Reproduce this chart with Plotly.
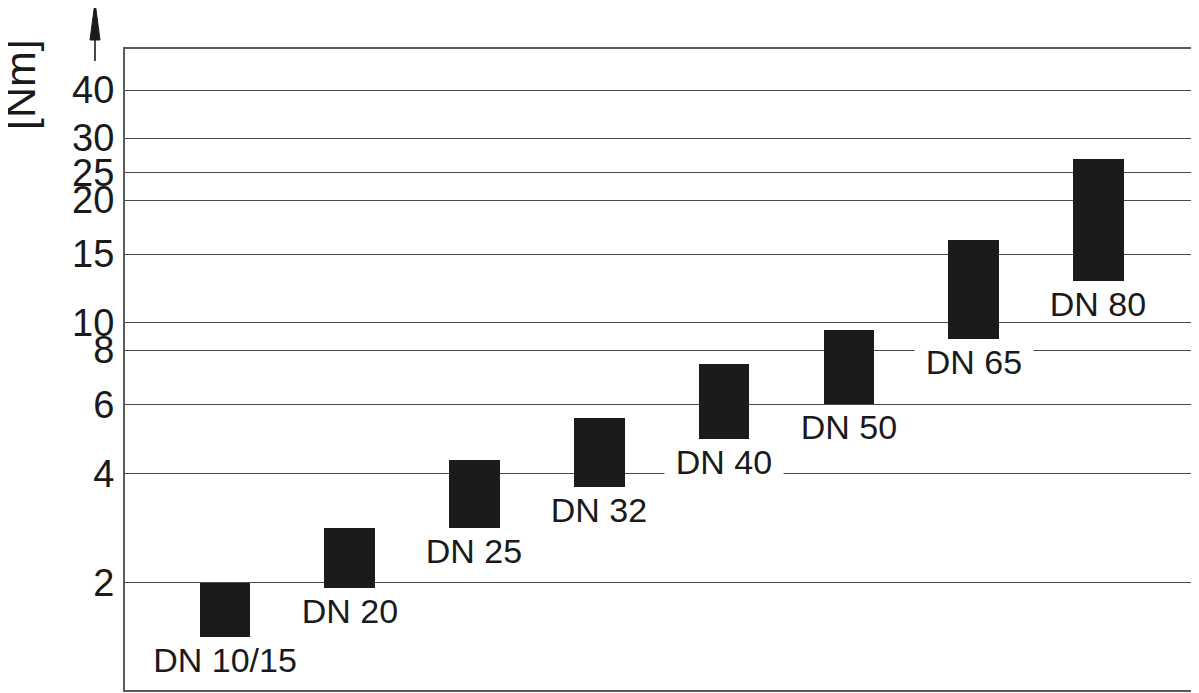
import numpy as np
import plotly.graph_objects as go

# ---- data ----
categories = ["DN 10/15", "DN 20", "DN 25", "DN 32", "DN 40", "DN 50", "DN 65", "DN 80"]
torque_min = [1.0, 1.9, 3.0, 3.75, 5.0, 6.0, 8.8, 13.0]   # Nm
torque_max = [2.0, 3.0, 4.4, 5.6, 7.5, 9.5, 16.3, 27.0]   # Nm
tick_values = [2, 4, 6, 8, 10, 15, 20, 25, 30, 40]
tick_labels = ["2", "4", "6", "8", "10", "15", "20", "25", "30", "40"]

# ---- the drawing's own (non-uniform) torque scale: axis position of each tick ----
tick_positions = [107.3, 216.7, 285.7, 340.0, 367.3, 436.0, 490.0, 517.5, 552.0, 600.0]
Y_RANGE = [0, 641]


def to_axis(v):
    v = np.asarray(v, dtype=float)
    pos = np.interp(v, tick_values, tick_positions)
    lo_slope = (tick_positions[1] - tick_positions[0]) / (tick_values[1] - tick_values[0])
    return np.where(v < tick_values[0], tick_positions[0] - (tick_values[0] - v) * lo_slope, pos)


base = to_axis(torque_min)
top = to_axis(torque_max)

# page body has an 8px margin; lay the figure out so the plot box lands where the reference has it
OFF = 8
W, H = 1191, 685
ML, MR, MT, MB = 117, 2, 41, 3
PW, PH = W - ML - MR, H - MT - MB


def px_to_paper(px, py):
    return (px - OFF - ML) / PW, (H - MB - (py - OFF)) / PH


TEXT = "#1a1a1a"
BAR = "#1b1b1b"
GRID = "#4a4a4a"
FRAME = "#5a5a5a"
FONT = "Liberation Sans, Arial, sans-serif"

fig = go.Figure(
    go.Bar(
        x=categories,
        y=top - base,
        base=base,
        width=0.405,
        marker=dict(color=BAR, line=dict(width=0)),
        customdata=np.stack([torque_min, torque_max], axis=1),
        hovertemplate="%{x}: %{customdata[0]}–%{customdata[1]} Nm<extra></extra>",
    )
)

label_bg = ["white", "white", "white", "white", "white", "white", "white", "rgba(0,0,0,0)"]
for cat, b, bg in zip(categories, base, label_bg):
    fig.add_annotation(
        x=cat, y=b, xref="x", yref="y", text=cat, showarrow=False,
        yanchor="top", xanchor="center", yshift=-7,
        width=22 * len(cat) + 8, height=30, valign="middle",
        font=dict(family=FONT, size=34, color=TEXT),
        bgcolor=bg, borderpad=0,
    )

# y-axis title
tx, ty = px_to_paper(20, 85)
fig.add_annotation(
    x=tx, y=ty, xref="paper", yref="paper", text="[Nm]", showarrow=False,
    textangle=-90, xanchor="center", yanchor="middle",
    font=dict(family=FONT, size=43, color=TEXT),
)

# axis arrow
sx, sy0 = px_to_paper(95, 61)
_, sy1 = px_to_paper(95, 38)
fig.add_shape(type="line", xref="paper", yref="paper", x0=sx, x1=sx, y0=sy0, y1=sy1,
              line=dict(color=TEXT, width=1.6))
tipx, tipy = px_to_paper(95, 2)
lx, by = px_to_paper(90, 40)
rx, _ = px_to_paper(100, 40)
fig.add_shape(type="path", xref="paper", yref="paper",
              path=f"M {lx} {by} L {tipx} {tipy} L {rx} {by} Z",
              fillcolor=TEXT, line=dict(color=TEXT, width=1))

fig.update_layout(
    width=W, height=H,
    margin=dict(l=ML, r=MR, t=MT, b=MB, autoexpand=False),
    paper_bgcolor="white", plot_bgcolor="white",
    showlegend=False, bargap=0,
    font=dict(family=FONT, color=TEXT),
)
fig.update_xaxes(
    range=[-0.8, 7.79], showticklabels=False, showgrid=False, zeroline=False,
    showline=True, mirror=True, linecolor=FRAME, linewidth=2, ticks="", automargin=False,
)
fig.update_yaxes(
    range=Y_RANGE, tickmode="array", tickvals=to_axis(tick_values), ticktext=tick_labels,
    tickfont=dict(family=FONT, size=38, color=TEXT), ticklabelstandoff=1,
    showgrid=True, gridcolor=GRID, gridwidth=1.3, zeroline=False,
    showline=True, mirror=True, linecolor=FRAME, linewidth=2, ticks="", automargin=False,
)

fig.write_html("out.html")
